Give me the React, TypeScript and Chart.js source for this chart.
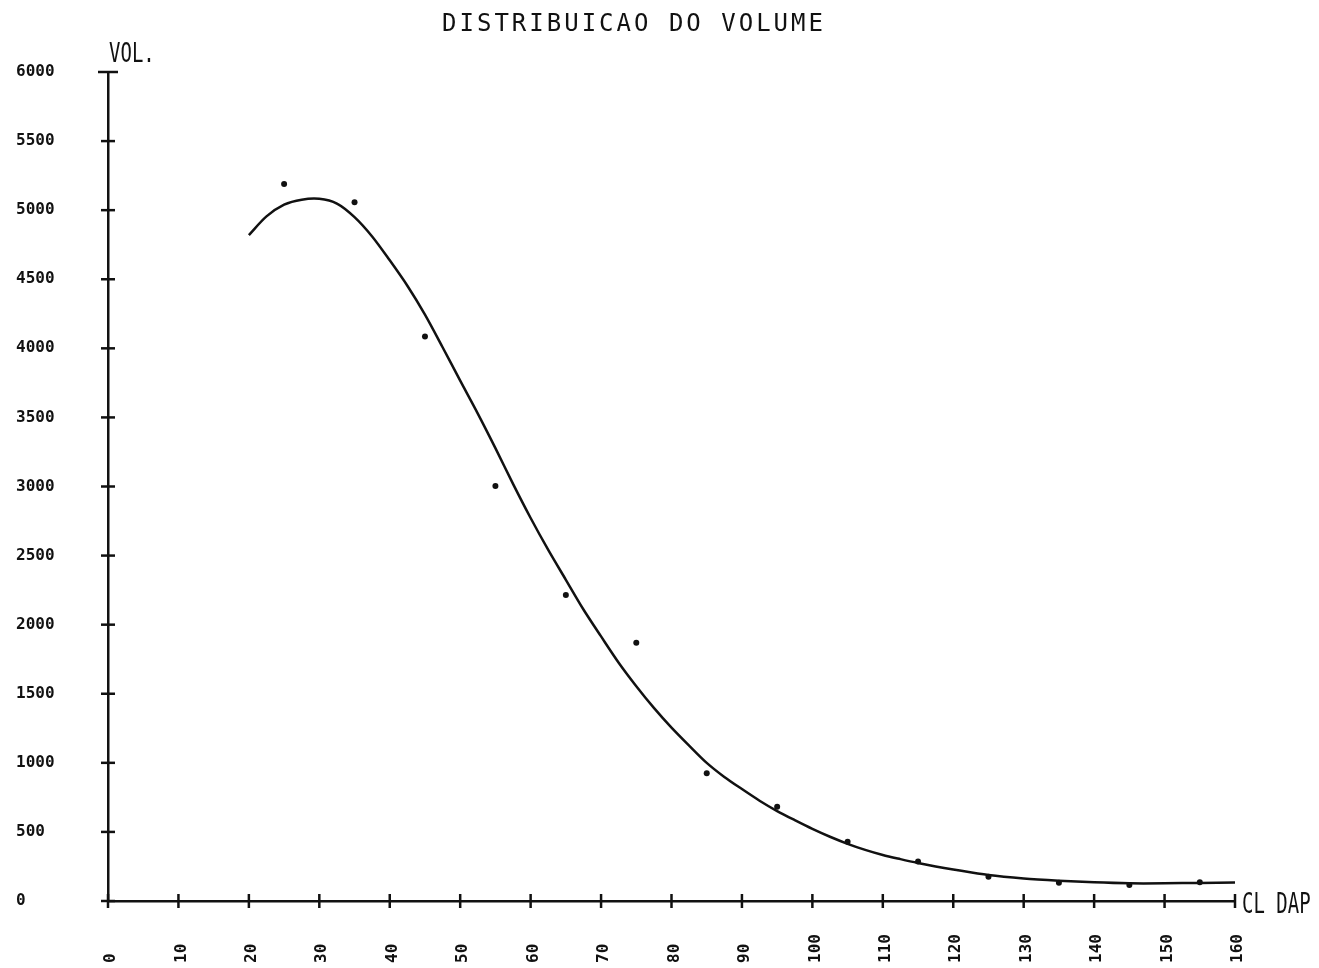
import React, { useEffect, useRef } from "react";
import { Chart, registerables } from "chart.js";

Chart.register(...registerables);

// ---- data ----
const titleText = "DISTRIBUICAO DO VOLUME";
const yAxisLabel = "VOL.";
const xAxisLabel = "CL DAP";

const xTickValues = [0, 10, 20, 30, 40, 50, 60, 70, 80, 90, 100, 110, 120, 130, 140, 150, 160];
const xTickLabels = ["0", "10", "20", "30", "40", "50", "60", "70", "80", "90", "100", "110", "120", "130", "140", "150", "160"];
const yTickValues = [0, 500, 1000, 1500, 2000, 2500, 3000, 3500, 4000, 4500, 5000, 5500, 6000];
const yTickLabels = ["0", "500", "1000", "1500", "2000", "2500", "3000", "3500", "4000", "4500", "5000", "5500", "6000"];

// observed class volumes (dots)
const obsX = [25, 35, 45, 55, 65, 75, 85, 95, 105, 115, 125, 135, 145, 155];
const obsY = [5190, 5057, 4085, 3004, 2215, 1870, 924, 683, 429, 285, 176, 132, 116, 135];

// fitted curve
const curveX = [20, 22.5, 25, 27.5, 30, 32.5, 35, 37.5, 40, 42.5, 45, 47.5, 50, 52.5, 55, 57.5, 60, 62.5, 65, 67.5, 70, 72.5, 75, 77.5, 80, 82.5, 85, 87.5, 90, 92.5, 95, 97.5, 100, 102.5, 105, 107.5, 110, 112.5, 115, 117.5, 120, 125, 130, 135, 140, 145, 150, 155, 160];
const curveY = [4820, 4955, 5040, 5076, 5082, 5048, 4950, 4810, 4637, 4453, 4244, 4008, 3766, 3528, 3278, 3019, 2772, 2541, 2325, 2110, 1915, 1725, 1555, 1398, 1255, 1125, 1000, 898, 810, 726, 651, 585, 522, 465, 414, 370, 333, 303, 275, 250, 228, 188, 163, 147, 135, 128, 128, 131, 133];

const INK = "#111";

const decorPlugin = {
  id: "plotterDecor",
  afterDraw(chart: any) {
    const ctx = chart.ctx as CanvasRenderingContext2D;
    const xs = chart.scales.x;
    const ys = chart.scales.y;
    const axisX = xs.getPixelForValue(0);
    const axisY = ys.getPixelForValue(0);
    ctx.save();
    ctx.strokeStyle = INK;
    ctx.fillStyle = INK;
    ctx.lineWidth = 2.5;
    // y ticks (crossing)
    yTickValues.forEach((v, i) => {
      const py = ys.getPixelForValue(v);
      const half = i === yTickValues.length - 1 ? 10 : 7;
      ctx.beginPath();
      ctx.moveTo(axisX - half, py);
      ctx.lineTo(axisX + half, py);
      ctx.stroke();
    });
    // x ticks (crossing)
    xTickValues.forEach((v) => {
      const px = xs.getPixelForValue(v);
      ctx.beginPath();
      ctx.moveTo(px, axisY - 7);
      ctx.lineTo(px, axisY + 7);
      ctx.stroke();
    });
    // x tick labels, rotated, bottom aligned
    ctx.font = 'bold 16px "DejaVu Sans Mono"';
    ctx.textAlign = "left";
    ctx.textBaseline = "middle";
    xTickValues.forEach((v, i) => {
      const px = xs.getPixelForValue(v);
      ctx.save();
      ctx.translate(px + 3, 963);
      ctx.rotate(-Math.PI / 2);
      ctx.fillText(xTickLabels[i], 0, 0);
      ctx.restore();
    });
    // title
    ctx.font = '24px "DejaVu Sans Mono"';
    (ctx as any).letterSpacing = "3px";
    ctx.textAlign = "center";
    ctx.textBaseline = "middle";
    ctx.fillText(titleText, 634, 25);
    (ctx as any).letterSpacing = "0px";
    // axis labels (tall, narrow)
    ctx.font = '19px "DejaVu Sans Mono"';
    ctx.textAlign = "left";
    ctx.textBaseline = "alphabetic";
    ctx.save();
    ctx.translate(109, 62);
    ctx.scale(1, 1.4);
    ctx.fillText(yAxisLabel, 0, 0);
    ctx.restore();
    ctx.save();
    ctx.translate(1242, 913);
    ctx.scale(1, 1.45);
    ctx.fillText(xAxisLabel, 0, 0);
    ctx.restore();
    ctx.restore();
  },
};

export default function App() {
  const ref = useRef<HTMLCanvasElement | null>(null);
  useEffect(() => {
    if (!ref.current) return;
    const chart = new Chart(ref.current, {
      type: "scatter",
      data: {
        datasets: [
          {
            type: "line",
            label: "curve",
            data: curveX.map((x, i) => ({ x, y: curveY[i] })),
            borderColor: INK,
            borderWidth: 2.5,
            pointRadius: 0,
            tension: 0.3,
            fill: false,
          } as any,
          {
            label: "obs",
            data: obsX.map((x, i) => ({ x, y: obsY[i] })),
            backgroundColor: INK,
            borderColor: INK,
            borderWidth: 0,
            pointRadius: 3,
          },
        ],
      },
      options: {
        responsive: false,
        animation: false,
        layout: { padding: { left: 16, top: 72, right: 84, bottom: 0 } },
        plugins: {
          legend: { display: false },
          title: { display: false },
          tooltip: { enabled: false },
        },
        scales: {
          x: {
            type: "linear",
            min: 0,
            max: 160,
            grid: { display: false },
            border: { display: true, color: INK, width: 2.5 },
            ticks: { display: false, stepSize: 10 },
            afterFit: (s: any) => {
              s.height = 67;
            },
          },
          y: {
            type: "linear",
            min: 0,
            max: 6000,
            grid: { display: false },
            border: { display: true, color: INK, width: 2.5 },
            ticks: {
              stepSize: 500,
              crossAlign: "far",
              color: INK,
              font: { family: '"DejaVu Sans Mono"', size: 16, weight: "bold" },
              callback: (v: any) => {
                const idx = yTickValues.indexOf(Number(v));
                return idx >= 0 ? yTickLabels[idx] : "";
              },
            },
            afterFit: (s: any) => {
              s.width = 92;
            },
          },
        },
      },
      plugins: [decorPlugin],
    });
    return () => chart.destroy();
  }, []);
  return (
    <div style={{ position: "fixed", left: 0, top: 0, width: 1319, height: 968, background: "#fff" }}>
      <canvas ref={ref} width={1319} height={968} style={{ display: "block" }} />
    </div>
  );
}
